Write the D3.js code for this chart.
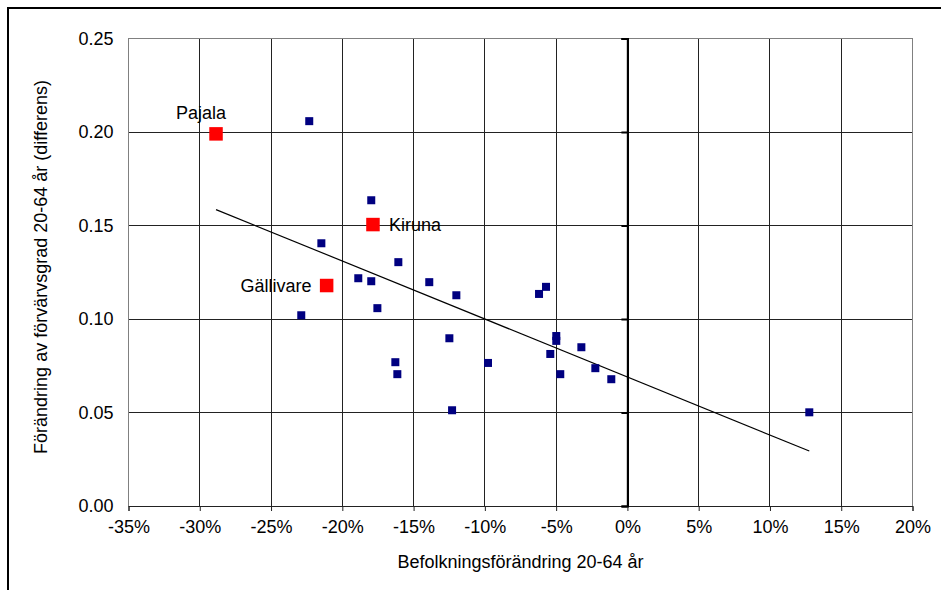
<!DOCTYPE html>
<html>
<head>
<meta charset="utf-8">
<script src="https://cdnjs.cloudflare.com/ajax/libs/d3/7.8.5/d3.min.js"></script>
<style>
	body { margin: 0; background: #fff; }
	svg { display: block; font-family: "Liberation Sans", Arial, sans-serif; }
</style>
</head>
<body>
<div id="chart"></div>
<script>
// municipalities (navy) - population change 20-64 (%) vs change in employment rate
const pointsX = [ -22.32, -17.97, -21.47, -16.07, -18.88, -17.97, -13.9, -12.0, -22.88, -17.54,
	-12.49, -16.28, -16.14, -12.3, -9.78, -6.2, -5.71, -4.99, -4.99, -5.41,
	-3.23, -4.71, -2.25, -1.13, 12.76 ];
const pointsY = [ 0.2058, 0.1635, 0.1405, 0.1304, 0.1218, 0.1202, 0.1197, 0.1127, 0.102, 0.1058,
	0.0897, 0.0769, 0.0705, 0.0512, 0.0765, 0.1134, 0.1172, 0.0909, 0.0883, 0.0813,
	0.0849, 0.0705, 0.0737, 0.0678, 0.0501 ];

// highlighted municipalities (red)
const namedLabels = [ "Pajala", "Kiruna", "Gällivare" ];
const namedX = [ -28.86, -17.85, -21.1 ];
const namedY = [ 0.199, 0.1505, 0.1179 ];

// linear trend, endpoints
const trendX = [ -28.86, 12.76 ];
const trendY = [ 0.1585, 0.0294 ];

const xTicks = [ -35, -30, -25, -20, -15, -10, -5, 0, 5, 10, 15, 20 ];
const yTicks = [ 0, 0.05, 0.10, 0.15, 0.20, 0.25 ];

const xTitle = "Befolkningsförändring 20-64 år";
const yTitle = "Förändring av förvärvsgrad 20-64 år (differens)";

let width = 941, height = 590;
let margin = { top: 38.5, right: 28.5, bottom: 84, left: 128.5 };
let w = width - margin.left - margin.right;
let h = height - margin.top - margin.bottom;

let svg = d3.select( "#chart" ).append( "svg" )
	.attr( "width", width )
	.attr( "height", height );

// outer chart frame (only top and left edges show)
svg.append( "path" )
	.attr( "d", "M8,590 V8 H941" )
	.attr( "fill", "none" )
	.attr( "stroke", "#000" )
	.attr( "stroke-width", 2 );

let g = svg.append( "g" ).attr( "transform", "translate(" + margin.left + "," + margin.top + ")" );

let x = d3.scaleLinear().domain( [ -35, 20 ] ).range( [ 0, w ] );
let y = d3.scaleLinear().domain( [ 0, 0.25 ] ).range( [ h, 0 ] );

// gridlines
g.append( "g" )
	.selectAll( "line" )
	.data( yTicks.slice( 1 ) )
	.join( "line" )
		.attr( "x1", 0 ).attr( "x2", w )
		.attr( "y1", d => y( d ) ).attr( "y2", d => y( d ) )
		.attr( "stroke", "#222" )
		.attr( "shape-rendering", "crispEdges" );

g.append( "g" )
	.selectAll( "line" )
	.data( xTicks.slice( 1, -1 ).filter( d => d !== 0 ) )
	.join( "line" )
		.attr( "x1", d => x( d ) ).attr( "x2", d => x( d ) )
		.attr( "y1", 0 ).attr( "y2", h )
		.attr( "stroke", "#222" )
		.attr( "shape-rendering", "crispEdges" );

// plot area border
g.append( "rect" )
	.attr( "width", w )
	.attr( "height", h )
	.attr( "fill", "none" )
	.attr( "stroke", "#808080" )
	.attr( "shape-rendering", "crispEdges" );

// bottom axis
let xAxis = g.append( "g" )
	.attr( "transform", "translate(0," + h + ")" )
	.call( d3.axisBottom( x ).tickValues( xTicks ).tickSize( 5 ).tickPadding( 9 ).tickFormat( d => d + "%" ) );
xAxis.select( ".domain" ).attr( "stroke", "#222" );
xAxis.selectAll( ".tick line" ).attr( "stroke", "#222" );
xAxis.selectAll( "text" )
	.attr( "fill", "#000" )
	.style( "font-size", "18px" );

// left labels (no visible ticks)
let yAxis = g.append( "g" )
	.call( d3.axisLeft( y ).tickValues( yTicks ).tickSize( 0 ).tickPadding( 15 ).tickFormat( d3.format( ".2f" ) ) );
yAxis.select( ".domain" ).remove();
yAxis.selectAll( "text" )
	.attr( "fill", "#000" )
	.style( "font-size", "18px" );

// vertical zero axis with ticks
let zeroAxis = g.append( "g" )
	.attr( "transform", "translate(" + x( 0 ) + ",0)" )
	.call( d3.axisLeft( y ).tickValues( yTicks ).tickSize( 6 ).tickFormat( "" ) );
zeroAxis.select( ".domain" )
	.attr( "stroke", "#000" )
	.attr( "stroke-width", 2.2 );
zeroAxis.selectAll( ".tick line" )
	.attr( "stroke", "#000" )
	.attr( "stroke-width", 2 );

// trend line
let line = d3.line()
	.x( d => x( d[0] ) )
	.y( d => y( d[1] ) );

g.append( "path" )
	.datum( d3.zip( trendX, trendY ) )
	.attr( "fill", "none" )
	.attr( "stroke", "#000" )
	.attr( "stroke-width", 1.2 )
	.attr( "d", line );

// navy points
let s = 8;
g.append( "g" )
	.selectAll( "rect" )
	.data( d3.zip( pointsX, pointsY ) )
	.join( "rect" )
		.attr( "x", d => x( d[0] ) - s / 2 )
		.attr( "y", d => y( d[1] ) - s / 2 )
		.attr( "width", s )
		.attr( "height", s )
		.attr( "fill", "#000080" );

// red points with labels
let r = 13.5;
let named = namedLabels.map( ( name, i ) => ({ name: name, x: namedX[ i ], y: namedY[ i ] }) );

g.append( "g" )
	.selectAll( "rect" )
	.data( named )
	.join( "rect" )
		.attr( "x", d => x( d.x ) - r / 2 )
		.attr( "y", d => y( d.y ) - r / 2 )
		.attr( "width", r )
		.attr( "height", r )
		.attr( "fill", "#ff0000" );

// label placement relative to each marker: above, right, left
let labelPos = {
	"Pajala": { dx: -15, dy: -15, anchor: "middle" },
	"Kiruna": { dx: 16, dy: 6, anchor: "start" },
	"Gällivare": { dx: -15, dy: 6, anchor: "end" },
};

g.append( "g" )
	.selectAll( "text" )
	.data( named )
	.join( "text" )
		.attr( "x", d => x( d.x ) + labelPos[ d.name ].dx )
		.attr( "y", d => y( d.y ) + labelPos[ d.name ].dy )
		.attr( "text-anchor", d => labelPos[ d.name ].anchor )
		.style( "font-size", "18px" )
		.text( d => d.name );

// axis titles
svg.append( "text" )
	.attr( "x", margin.left + w / 2 )
	.attr( "y", 568 )
	.attr( "text-anchor", "middle" )
	.style( "font-size", "18px" )
	.text( xTitle );

svg.append( "text" )
	.attr( "transform", "translate(47," + 267 + ") rotate(-90)" )
	.attr( "text-anchor", "middle" )
	.style( "font-size", "18px" )
	.text( yTitle );
</script>
</body>
</html>
